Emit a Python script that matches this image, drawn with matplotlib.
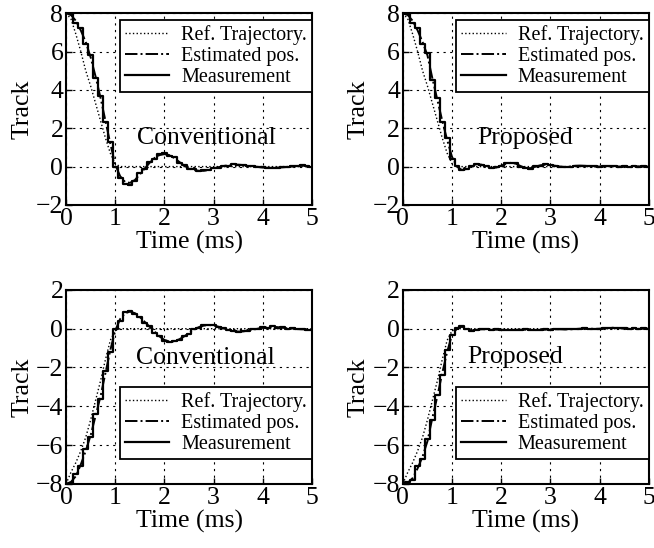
import numpy as np
import matplotlib.pyplot as plt

plt.rcParams['font.family'] = ['Liberation Serif', 'DejaVu Serif']

# time axis (ms), one sample every 0.1 ms
t = np.round(np.arange(0, 5.01, 0.1), 2)

# reference trajectories
ref_down = [8.0, 7.7, 6.9, 6.0, 5.0, 4.2, 3.3, 2.4, 1.5, 0.7, 0.15] + [0.0] * 40
ref_up = [-8.0, -7.4, -6.9, -6.3, -5.6, -4.7, -3.7, -2.7, -1.6, -0.6, -0.1] + [0.0] * 40

# conventional, seek down from 8
est_conv_down = [8.0, 7.9, 7.6, 7.1, 6.5, 5.7, 4.7, 3.6, 2.4, 1.2,
                 0.1, -0.5, -0.8, -0.85, -0.7, -0.4, -0.1, 0.2, 0.45, 0.6,
                 0.65, 0.6, 0.45, 0.25, 0.05, -0.1, -0.18, -0.22, -0.22, -0.18,
                 -0.1, -0.03, 0.03, 0.07, 0.1, 0.1, 0.08, 0.05, 0.02, -0.02,
                 -0.05, -0.06, -0.06, -0.05, -0.04, -0.02, 0.0, 0.03, 0.05, 0.03,
                 0.0]
meas_conv_down = [8.0, 7.95, 7.5, 7.2, 6.4, 5.8, 4.6, 3.7, 2.3, 1.3,
                  0.0, -0.6, -0.9, -0.95, -0.75, -0.35, -0.15, 0.25, 0.4, 0.65,
                  0.7, 0.55, 0.5, 0.2, 0.1, -0.15, -0.15, -0.25, -0.2, -0.2,
                  -0.08, -0.05, 0.05, 0.05, 0.12, 0.08, 0.1, 0.03, 0.04, -0.03,
                  -0.04, -0.08, -0.05, -0.06, -0.03, -0.03, 0.02, 0.02, 0.07, 0.02,
                  0.0]

# proposed, seek down from 8
est_prop_down = [8.0, 7.9, 7.6, 7.1, 6.5, 5.8, 4.6, 3.5, 2.4, 1.4,
                 0.5, 0.0, -0.18, -0.12, 0.05, 0.13, 0.1, 0.0, -0.07, -0.05,
                 0.05, 0.15, 0.2, 0.15, 0.02, -0.08, -0.08, 0.0, 0.07, 0.1,
                 0.08, 0.04, 0.0, -0.02, 0.0, 0.04, 0.05, 0.04, 0.02, 0.0,
                 0.0, 0.02, 0.03, 0.02, 0.0, 0.0, 0.01, 0.02, 0.01, 0.0,
                 0.0]
meas_prop_down = [8.0, 7.95, 7.5, 7.2, 6.4, 5.9, 4.5, 3.6, 2.3, 1.5,
                  0.4, 0.05, -0.2, -0.1, 0.03, 0.15, 0.08, 0.02, -0.08, -0.03,
                  0.03, 0.17, 0.18, 0.17, 0.0, -0.06, -0.1, 0.02, 0.05, 0.12,
                  0.06, 0.05, -0.01, -0.01, -0.01, 0.05, 0.04, 0.05, 0.01, 0.01,
                  -0.01, 0.03, 0.02, 0.03, -0.01, 0.01, 0.0, 0.03, 0.0, 0.01,
                  0.0]

# conventional, seek up from -8
est_conv_up = [-8.0, -7.9, -7.6, -7.0, -6.3, -5.5, -4.5, -3.5, -2.3, -1.1,
               -0.1, 0.5, 0.8, 0.88, 0.8, 0.6, 0.35, 0.1, -0.15, -0.4,
               -0.58, -0.66, -0.65, -0.55, -0.4, -0.22, -0.05, 0.08, 0.16, 0.19,
               0.17, 0.1, 0.02, -0.06, -0.12, -0.15, -0.14, -0.1, -0.05, 0.0,
               0.05, 0.08, 0.1, 0.08, 0.05, 0.02, 0.0, -0.02, -0.03, -0.04,
               -0.05]
meas_conv_up = [-8.0, -7.95, -7.5, -7.1, -6.2, -5.6, -4.4, -3.6, -2.2, -1.2,
                0.0, 0.4, 0.85, 0.92, 0.78, 0.62, 0.3, 0.12, -0.2, -0.38,
                -0.62, -0.7, -0.62, -0.58, -0.36, -0.25, -0.02, 0.05, 0.18, 0.17,
                0.2, 0.08, 0.04, -0.08, -0.1, -0.17, -0.12, -0.12, -0.03, -0.02,
                0.07, 0.06, 0.12, 0.06, 0.07, 0.0, 0.02, -0.04, -0.02, -0.06,
                -0.05]

# proposed, seek up from -8
est_prop_up = [-8.0, -7.95, -7.7, -7.2, -6.6, -5.8, -4.6, -3.5, -2.3, -1.2,
               -0.3, 0.0, 0.1, 0.02, -0.08, -0.06, -0.03, -0.03, -0.05, -0.05,
               -0.06, -0.06, -0.07, -0.06, -0.05, -0.05, -0.06, -0.07, -0.06, -0.05,
               -0.04, -0.03, -0.03, -0.04, -0.03, -0.02, 0.0, 0.01, 0.0, -0.01,
               0.0, 0.02, 0.04, 0.05, 0.03, 0.01, 0.0, 0.0, -0.01, 0.0,
               0.0]
meas_prop_up = [-8.0, -7.9, -7.8, -7.1, -6.7, -5.7, -4.7, -3.4, -2.4, -1.1,
                -0.35, 0.05, 0.12, 0.0, -0.1, -0.05, -0.04, -0.02, -0.06, -0.04,
                -0.07, -0.05, -0.08, -0.05, -0.06, -0.04, -0.07, -0.06, -0.07, -0.04,
                -0.05, -0.02, -0.04, -0.03, -0.04, -0.01, -0.01, 0.02, -0.01, 0.0,
                -0.01, 0.03, 0.03, 0.06, 0.02, 0.02, -0.01, 0.01, -0.01, 0.01,
                0.0]

labels = ["Ref. Trajectory.", "Estimated pos.", "Measurement"]

panels = [
    # rect, ref, est, meas, text, text pos, ylim, yticks, legend loc, legend anchor
    ([0.101, 0.626, 0.376, 0.350], ref_down, est_conv_down, meas_conv_down,
     "Conventional", (2.85, 1.5), (-2, 8), [-2, 0, 2, 4, 6, 8], "upper right", (1.0, 0.964)),
    ([0.616, 0.626, 0.376, 0.350], ref_down, est_prop_down, meas_prop_down,
     "Proposed", (2.48, 1.5), (-2, 8), [-2, 0, 2, 4, 6, 8], "upper right", (1.0, 0.964)),
    ([0.101, 0.117, 0.376, 0.354], ref_up, est_conv_up, meas_conv_up,
     "Conventional", (2.83, -1.5), (-8, 2), [-8, -6, -4, -2, 0, 2], "lower right", (1.0, 0.129)),
    ([0.616, 0.117, 0.376, 0.354], ref_up, est_prop_up, meas_prop_up,
     "Proposed", (2.28, -1.45), (-8, 2), [-8, -6, -4, -2, 0, 2], "lower right", (1.0, 0.129)),
]

fig = plt.figure(figsize=(6.54, 5.48), dpi=100)

for rect, ref, est, meas, txt, tpos, ylim, yt, loc, anchor in panels:
    ax = fig.add_axes(rect)
    ax.plot(t, ref, ':', color='black', lw=1.0, label=labels[0])
    ax.plot(t, est, '-.', color='black', lw=1.4, label=labels[1])
    ax.plot(t, meas, '-', color='black', lw=1.6, drawstyle='steps-mid', label=labels[2])
    ax.set_xlim(0, 5)
    ax.set_ylim(*ylim)
    ax.set_xticks([0, 1, 2, 3, 4, 5])
    ax.set_yticks(yt)
    ax.grid(True, linestyle=(0, (2, 4)), color='black', lw=0.8)
    ax.tick_params(direction='in', labelsize=18.5, pad=2, length=4, width=1)
    for s in ax.spines.values():
        s.set_linewidth(1.5)
    ax.set_xlabel("Time (ms)", fontsize=18.5, labelpad=1)
    ax.set_ylabel("Track", fontsize=18.5, labelpad=2)
    ax.text(tpos[0], tpos[1], txt, fontsize=18.5, ha='center', va='center')
    leg = ax.legend(loc=loc, bbox_to_anchor=anchor, borderaxespad=0, fontsize=14.5,
                    fancybox=False, framealpha=1, edgecolor='black', handlelength=2.2,
                    labelspacing=0.1, borderpad=0.25, handletextpad=0.6)
    leg.get_frame().set_linewidth(1.3)

fig.savefig("out.png", dpi=100)
